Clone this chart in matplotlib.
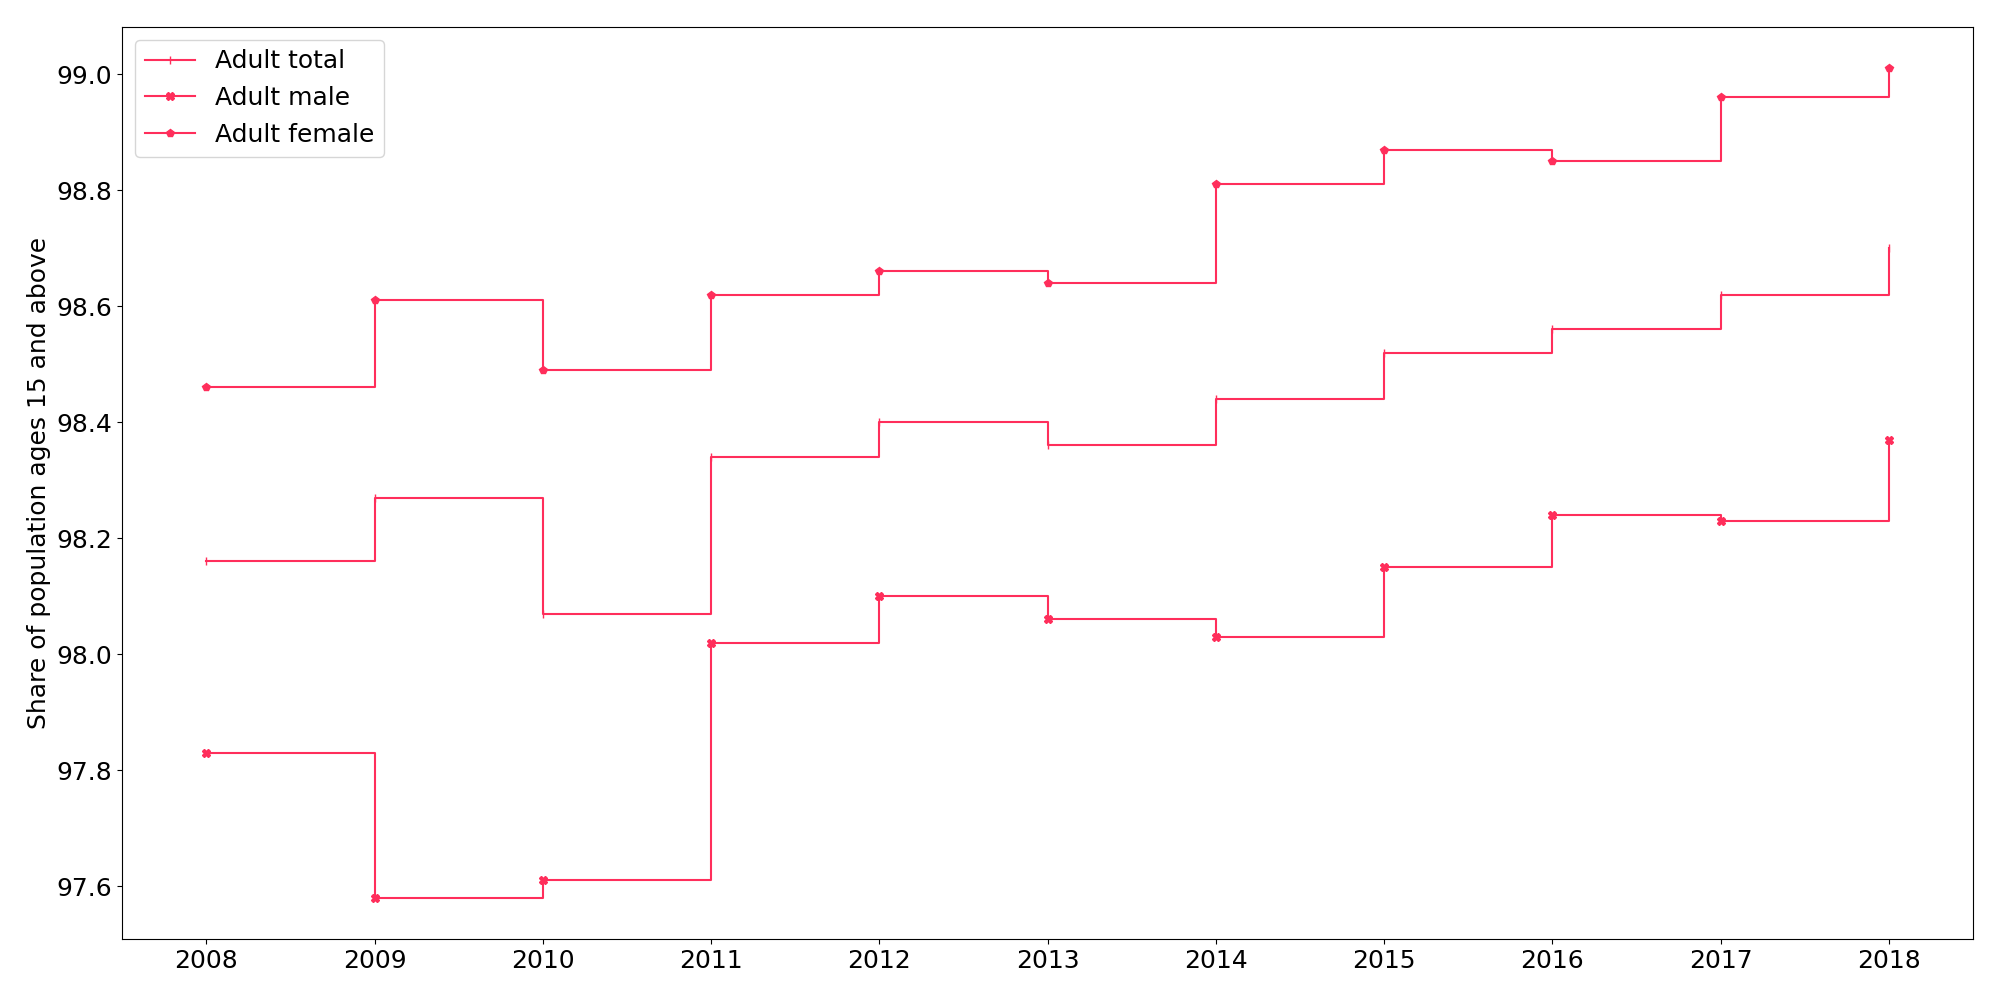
import matplotlib
matplotlib.use("Agg")
import matplotlib.pyplot as plt

years = [2008, 2009, 2010, 2011, 2012, 2013, 2014, 2015, 2016, 2017, 2018]
adult_total = [98.16, 98.27, 98.07, 98.34, 98.40, 98.36, 98.44, 98.52, 98.56, 98.62, 98.70]
adult_male = [97.83, 97.58, 97.61, 98.02, 98.10, 98.06, 98.03, 98.15, 98.24, 98.23, 98.37]
adult_female = [98.46, 98.61, 98.49, 98.62, 98.66, 98.64, 98.81, 98.87, 98.85, 98.96, 99.01]

color = "#FF2E5B"

plt.rcParams["font.size"] = 18
fig, ax = plt.subplots(figsize=(20, 10), dpi=100)

ax.plot(years, adult_total, drawstyle="steps-post", marker="|", color=color, label="Adult total")
ax.plot(years, adult_male, drawstyle="steps-post", marker="X", color=color, label="Adult male")
ax.plot(years, adult_female, drawstyle="steps-post", marker="p", color=color, label="Adult female")

ax.set_xticks(years)
ax.set_ylabel("Share of population ages 15 and above")
ax.legend(loc="upper left")

fig.tight_layout()
fig.savefig("out.png")
